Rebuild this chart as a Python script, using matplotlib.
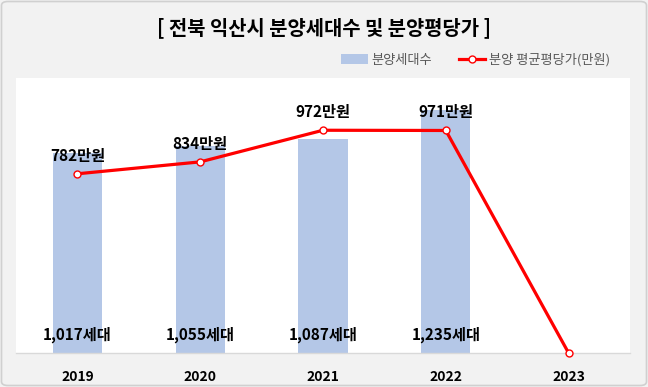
import matplotlib
matplotlib.use("Agg")
import matplotlib.pyplot as plt
from matplotlib.patches import FancyBboxPatch, Patch
from matplotlib.lines import Line2D
import numpy as np

plt.rcParams['font.family'] = ['Noto Sans CJK KR', 'DejaVu Sans']

years = ['2019', '2020', '2021', '2022', '2023']
households = [1017, 1055, 1087, 1235, 0]
household_labels = ['1,017세대', '1,055세대', '1,087세대', '1,235세대', '']
price = [782, 834, 972, 971, 0]
price_labels = ['782만원', '834만원', '972만원', '971만원', '']
title = '[ 전북 익산시 분양세대수 및 분양평당가 ]'
legend_bar = '분양세대수'
legend_line = '분양 평균평당가(만원)'

W, H = 648, 387
fig = plt.figure(figsize=(W / 100, H / 100), dpi=100)
fig.patch.set_facecolor('#f2f2f2')

border = FancyBboxPatch((1.5 / W, 1.5 / H), 1 - 3 / W, 1 - 3 / H,
                        boxstyle='round,pad=0,rounding_size=0.01',
                        transform=fig.transFigure, facecolor='none',
                        edgecolor='#d0d0d0', linewidth=1.2)
fig.patches.append(border)

left, right, top, bottom = 16, 630, 78, 353
ax = fig.add_axes([left / W, (H - bottom) / H, (right - left) / W, (bottom - top) / H])
ax.set_facecolor('white')
x = np.arange(len(years))
ax.bar(x, households, width=0.4, color='#b4c7e7', zorder=1)
ax.set_xlim(-0.5, len(years) - 0.5)
ax.set_ylim(0, 1400)
ax.set_yticks([])
ax.set_xticks(x)
ax.set_xticklabels(years, fontsize=10, fontweight='bold', color='black')
ax.tick_params(axis='x', length=0, pad=12)
for s in ['top', 'left', 'right']:
    ax.spines[s].set_visible(False)
ax.spines['bottom'].set_color('#d9d9d9')
ax.spines['bottom'].set_linewidth(1)

for xi, lab in zip(x, household_labels):
    if lab:
        ax.annotate(lab, xy=(xi, 0), xytext=(0, 13), textcoords='offset points',
                    ha='center', va='center', fontsize=11, fontweight='bold', color='black')

ax2 = ax.twinx()
ax2.set_ylim(0, 1200)
ax2.set_yticks([])
for s in ['top', 'left', 'right', 'bottom']:
    ax2.spines[s].set_visible(False)
ax2.plot(x, price, color='#ff0000', linewidth=2.3, marker='o', markersize=5,
         markerfacecolor='white', markeredgecolor='#ff0000', markeredgewidth=1.0,
         clip_on=False, zorder=3)
for xi, yi, lab in zip(x, price, price_labels):
    if lab:
        ax2.annotate(lab, xy=(xi, yi), xytext=(0, 13), textcoords='offset points',
                     ha='center', va='center', fontsize=11, fontweight='bold', color='black')

fig.text(324 / W, 1 - 28 / H, title, ha='center', va='center', fontsize=14.3,
         fontweight='heavy', color='black')

handles = [Patch(facecolor='#b4c7e7', edgecolor='none'),
           Line2D([0], [0], color='#ff0000', linewidth=2.3, marker='o', markersize=5,
                  markerfacecolor='white', markeredgecolor='#ff0000')]
leg = fig.legend(handles, [legend_bar, legend_line], loc='center right',
                 bbox_to_anchor=(622 / W, 1 - 60 / H), ncol=2, frameon=False,
                 fontsize=9.5, labelcolor='#595959', handlelength=2.0, handleheight=0.7,
                 handletextpad=0.3, columnspacing=2.0)

fig.savefig('out.png', dpi=100, facecolor=fig.get_facecolor())
